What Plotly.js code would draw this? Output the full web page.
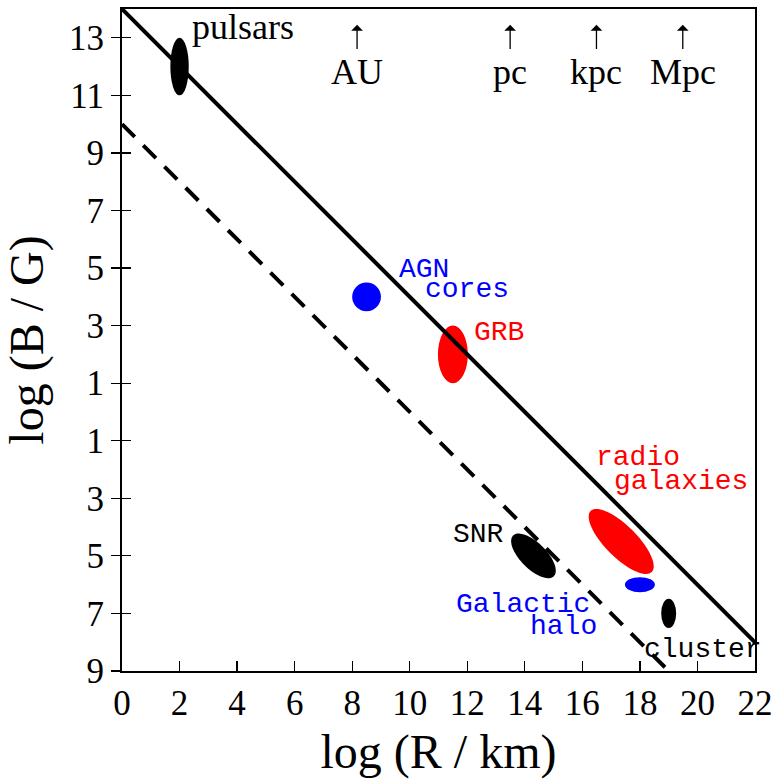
<!DOCTYPE html>
<html>
<head>
<meta charset="utf-8">
<script src="https://cdn.plot.ly/plotly-3.0.1.min.js"></script>
<style>html,body{margin:0;padding:0;background:#fff;}#chart{width:780px;height:782px;}</style>
</head>
<body>
<div id="chart"></div>
<script>
// ---- data ----
const sources   = ['pulsars', 'AGN cores', 'GRB', 'radio galaxies', 'SNR', 'Galactic halo', 'cluster'];
const logR      = [2, 8.5, 11.5, 17.35, 14.3, 18, 19];
const logB      = [12, 4, 2, -4.5, -5, -6, -7];
const spreadR   = [0.32, 0.5, 0.52, 1.5, 1.0, 0.52, 0.26];   // semi-extent (major for tilted)
const spreadB   = [1.0, 0.5, 1.0, 0.55, 0.45, 0.26, 0.51];   // semi-extent (minor for tilted)
const tiltDeg   = [0, 0, 0, -45, -45, 0, 0];

const solidR = [0, 22];
const solidB = [14, -8];
const dashR  = [0, 19];
const dashB  = [10, -9];

const scaleNames = ['AU', 'pc', 'kpc', 'Mpc'];
const scaleLogR  = [8.17, 13.49, 16.49, 19.49];

const xTickVals = [0, 2, 4, 6, 8, 10, 12, 14, 16, 18, 20, 22];
const yTickVals = [13, 11, 9, 7, 5, 3, 1, -1, -3, -5, -7, -9];
const yTickText = ['13', '11', '9', '7', '5', '3', '1', '1', '3', '5', '7', '9'];

// label text lines for each source
const labelLines = [['pulsars'], ['AGN', 'cores'], ['GRB'], ['radio', 'galaxies'], ['SNR'], ['Galactic', 'halo'], ['cluster']];

// ---- styles ----
const srcColors = ['#000000', '#0000ff', '#ff0000', '#ff0000', '#000000', '#0000ff', '#000000'];
const serif = 'Liberation Serif, Times New Roman, Times, serif';
const mono = 'Liberation Mono, Courier New, Courier, monospace';
// label placement (x center, y middle) per line
const labelPos = [
  [[4.19, 13.38]],
  [[10.5, 4.95], [12.0, 4.25]],
  [[13.1, 2.75]],
  [[17.95, -1.57], [19.43, -2.4]],
  [[12.4, -4.26]],
  [[13.94, -6.69], [15.35, -7.44]],
  [[20.18, -8.25]]
];

// ---- shapes (ellipses) ----
const shapes = [];
sources.forEach((s, i) => {
  const cx = logR[i], cy = logB[i], a = spreadR[i], b = spreadB[i];
  if (tiltDeg[i] === 0) {
    shapes.push({type: 'circle', xref: 'x', yref: 'y', layer: 'below',
      x0: cx - a, x1: cx + a, y0: cy - b, y1: cy + b,
      fillcolor: srcColors[i], line: {width: 0}});
  } else {
    const th = tiltDeg[i] * Math.PI / 180;
    let p = '';
    const n = 72;
    for (let k = 0; k <= n; k++) {
      const t = 2 * Math.PI * k / n;
      const x = cx + a * Math.cos(th) * Math.cos(t) - b * Math.sin(th) * Math.sin(t);
      const y = cy + a * Math.sin(th) * Math.cos(t) + b * Math.cos(th) * Math.sin(t);
      p += (k === 0 ? 'M' : 'L') + x.toFixed(4) + ',' + y.toFixed(4);
    }
    p += 'Z';
    shapes.push({type: 'path', xref: 'x', yref: 'y', layer: 'below', path: p,
      fillcolor: srcColors[i], line: {width: 0}});
  }
});

// ---- annotations ----
const annotations = [];
sources.forEach((s, i) => {
  labelLines[i].forEach((txt, j) => {
    const isSerif = (i === 0);
    annotations.push({x: labelPos[i][j][0], y: labelPos[i][j][1], xref: 'x', yref: 'y',
      text: txt, showarrow: false, xanchor: 'center', yanchor: 'middle',
      font: {family: isSerif ? serif : mono, size: isSerif ? 36 : 28, color: srcColors[i]}});
  });
});
scaleNames.forEach((nm, i) => {
  annotations.push({x: scaleLogR[i], y: 13.45, ax: scaleLogR[i], ay: 12.56,
    xref: 'x', yref: 'y', axref: 'x', ayref: 'y', text: '', showarrow: true,
    arrowhead: 1, arrowsize: 1.5, arrowwidth: 1.3, arrowcolor: '#000', standoff: 0, startstandoff: 0});
  annotations.push({x: scaleLogR[i], y: 11.8, xref: 'x', yref: 'y', text: nm, showarrow: false,
    xanchor: 'center', yanchor: 'middle', font: {family: serif, size: 36, color: '#000'}});
});

// ---- traces ----
const traces = [
  {x: solidR, y: solidB, mode: 'lines', line: {color: '#000', width: 4}, hoverinfo: 'skip', cliponaxis: false},
  {x: dashR, y: dashB, mode: 'lines', line: {color: '#000', width: 4, dash: '18px,12px'}, hoverinfo: 'skip'},
  {x: [0], y: [0], yaxis: 'y2', mode: 'markers', marker: {opacity: 0}, hoverinfo: 'skip'}
];

const axisFont = {family: serif, size: 35, color: '#000'};
const layout = {
  width: 780, height: 782,
  margin: {l: 122, r: 25, t: 9, b: 111},
  paper_bgcolor: '#fff', plot_bgcolor: '#fff',
  showlegend: false,
  xaxis: {range: [0, 22], tickvals: xTickVals, ticktext: xTickVals.map(String),
    ticks: 'inside', ticklen: 10, tickwidth: 1.2, tickcolor: '#000',
    showline: true, linewidth: 2, linecolor: '#000', mirror: true,
    showgrid: false, zeroline: false, automargin: false, tickfont: axisFont,
    title: {text: 'log (R / km)', font: {family: serif, size: 48, color: '#000'}, standoff: 12}},
  yaxis: {range: [-9, 14], tickvals: yTickVals, ticktext: yTickText,
    ticks: 'outside', ticklen: 9, tickwidth: 1.2, tickcolor: '#000',
    showline: true, linewidth: 2, linecolor: '#000', mirror: true,
    showgrid: false, zeroline: false, automargin: false, tickfont: axisFont,
    title: {text: 'log (B / G)', font: {family: serif, size: 48, color: '#000'}, standoff: 10}},
  yaxis2: {range: [-9, 14], overlaying: 'y', side: 'left', anchor: 'x', tickvals: yTickVals,
    ticks: 'inside', ticklen: 9, tickwidth: 1.2, tickcolor: '#000',
    showticklabels: false, showline: false, showgrid: false, zeroline: false},
  shapes: shapes,
  annotations: annotations
};

Plotly.newPlot('chart', traces, layout, {displayModeBar: false, staticPlot: true});
</script>
</body>
</html>
